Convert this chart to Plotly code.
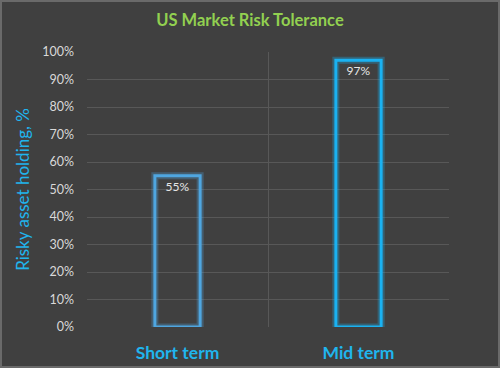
import plotly.graph_objects as go

categories = ["Short term", "Mid term"]
values = [55, 97]
labels = ["55%", "97%"]
edge_colors = ["#4FA6E0", "#1AB2F2"]
glow_colors = ["rgba(79,166,224,0.3)", "rgba(26,178,242,0.3)"]
y_ticks = [0, 10, 20, 30, 40, 50, 60, 70, 80, 90, 100]
y_tick_labels = [f"{v}%" for v in y_ticks]

fig = go.Figure()
fig.add_trace(go.Bar(
    x=categories, y=values, width=0.25,
    marker=dict(color="rgba(0,0,0,0)", line=dict(color=glow_colors, width=7)),
    hoverinfo="skip", showlegend=False,
))
fig.add_trace(go.Bar(
    x=categories, y=values, width=0.25,
    marker=dict(color="rgba(0,0,0,0)", line=dict(color=edge_colors, width=3)),
    text=labels, textposition="inside", insidetextanchor="end",
    textfont=dict(color="#E6E6E6", size=12, family="Lato"),
    showlegend=False,
))

fig.update_layout(
    width=500, height=368,
    barmode="overlay",
    paper_bgcolor="#404040", plot_bgcolor="#404040",
    margin=dict(l=87, r=51, t=52, b=41),
    title=dict(text="<b>US Market Risk Tolerance</b>", x=0.5, xanchor="center",
               y=0.945, yanchor="middle",
               font=dict(color="#92D050", size=16.5, family="Lato")),
    font=dict(family="Lato"),
)
fig.update_xaxes(
    automargin=False,
    showgrid=True, gridcolor="#585858", gridwidth=1, tickson="boundaries",
    ticks="", showline=False, zeroline=False,
    tickfont=dict(color="#1FB5EE", size=17.5, family="Lato", weight="bold"),
    ticklabelstandoff=13,
)
fig.update_yaxes(
    automargin=False,
    range=[0, 100], tickvals=y_ticks, ticktext=y_tick_labels,
    showgrid=True, gridcolor="#585858", gridwidth=1, zeroline=False,
    tickfont=dict(color="#D9D9D9", size=12.5, family="Lato"),
    ticklabelstandoff=12,
    title=dict(text="Risky asset holding, %", font=dict(color="#1FB5EE", size=17, family="Lato"),
               standoff=8),
)
fig.add_shape(type="rect", xref="paper", yref="paper",
              x0=-86/362, x1=1 + 50/362, y0=-40/275, y1=1 + 51/275,
              line=dict(color="#6A6A6A", width=2), layer="above")
fig.write_html("out.html", config={"displayModeBar": False},
               post_script="document.body.style.margin='0';document.body.style.padding='0';")
